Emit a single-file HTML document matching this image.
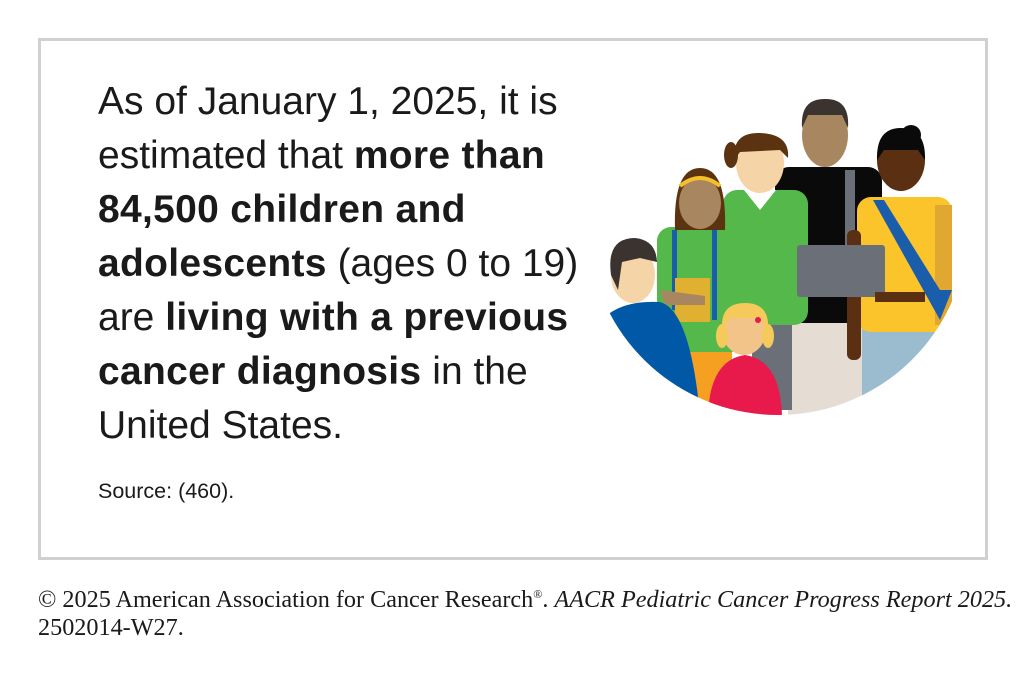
<!DOCTYPE html>
<html><head><meta charset="utf-8"><style>
body{margin:0;width:1025px;height:675px;background:#fff;position:relative;overflow:hidden;font-family:"Liberation Sans",sans-serif}
.box{position:absolute;left:38px;top:38px;width:944px;height:516px;border:3px solid #d0d0d0}
.main{position:absolute;left:98px;top:75px;font-size:39px;line-height:54px;color:#1a1a1a;width:520px;white-space:nowrap}
.main b{font-weight:700;letter-spacing:0.3px}
.src{position:absolute;left:98px;top:479px;font-size:21.5px;color:#1a1a1a}
.foot{position:absolute;left:38px;top:580px;font-family:"Liberation Serif",serif;font-size:24.2px;line-height:28px;color:#1a1a1a;white-space:nowrap}
svg{position:absolute;left:0;top:0}
</style></head><body>
<div class="box"></div>
<div class="main">As of January 1, 2025, it is<br>estimated that <b>more than</b><br><b>84,500 children and</b><br><b>adolescents</b> (ages 0 to 19)<br>are <b>living with a previous</b><br><b>cancer diagnosis</b> in the<br>United States.</div>
<div class="src">Source: (460).</div>
<div class="foot">© 2025 American Association for Cancer Research<sup style="font-size:12px">®</sup>. <i>AACR Pediatric Cancer Progress Report 2025.</i><br>2502014-W27.</div>
<svg width="1025" height="675">
<defs><clipPath id="c"><rect x="560" y="60" width="420" height="200"/><circle cx="778" cy="225" r="190"/></clipPath></defs>
<g clip-path="url(#c)">
<rect x="775" y="167" width="107" height="160" rx="14" fill="#0a0a0a"/>
<rect x="845" y="170" width="10" height="80" fill="#6b7078"/>
<rect x="788" y="323" width="77" height="100" fill="#e5ddd3"/>
<ellipse cx="825" cy="135" rx="23" ry="32" fill="#a8865f"/>
<path d="M802 128 Q800 98 826 99 Q850 99 848 128 L842 115 L808 115 Z" fill="#3a3330"/>
<rect x="752" y="320" width="40" height="90" fill="#6b7078"/>
<rect x="723" y="190" width="85" height="135" rx="14" fill="#55b84a"/>
<path d="M744 190 L760 210 L776 190 Z" fill="#fff"/>
<ellipse cx="760" cy="163" rx="24" ry="30" fill="#f5d5a8"/>
<path d="M734 160 Q732 132 760 133 Q790 134 788 158 L780 150 L740 152 Z" fill="#5c3310"/>
<ellipse cx="731" cy="155" rx="7" ry="13" fill="#5c3310"/>
<rect x="862" y="325" width="73" height="80" fill="#9bbccf"/>
<rect x="857" y="197" width="95" height="135" rx="14" fill="#fcc42b"/>
<rect x="935" y="205" width="17" height="120" fill="#e0a830"/>
<path d="M873 200 L884 200 L940 290 L952 290 L940 320 Z" fill="#1a5eab"/>
<rect x="847" y="230" width="14" height="130" rx="6" fill="#5a2f12"/>
<ellipse cx="901" cy="160" rx="24" ry="31" fill="#5a2f12"/>
<path d="M877 160 Q876 128 901 128 Q926 128 925 160 L918 150 L884 150 Z" fill="#0a0a0a"/>
<circle cx="911" cy="135" r="10" fill="#0a0a0a"/>
<rect x="797" y="245" width="88" height="52" rx="3" fill="#6b7078"/>
<path d="M875 292 L925 292 L925 302 L875 302 Z" fill="#5a2f12"/>
<rect x="680" y="345" width="52" height="70" fill="#f5a020"/>
<rect x="657" y="227" width="88" height="125" rx="14" fill="#55b84a"/>
<rect x="672" y="230" width="5" height="80" fill="#1a5eab"/>
<rect x="712" y="230" width="5" height="90" fill="#1a5eab"/>
<rect x="675" y="278" width="35" height="44" fill="#e0b030"/>
<path d="M660 290 L705 296 L705 305 L665 305 Z" fill="#a8865f"/>
<path d="M675 230 Q673 168 700 168 Q727 168 725 230 Z" fill="#5c3310"/>
<ellipse cx="700" cy="203" rx="21" ry="26" fill="#a8865f"/>
<path d="M680 186 Q700 170 720 186" stroke="#f5c02a" stroke-width="4" fill="none"/>
<path d="M602 320 Q620 300 660 302 Q690 310 700 415 L602 415 Z" fill="#0058a6"/>
<ellipse cx="633" cy="275" rx="22" ry="28" fill="#f5d5a8"/>
<path d="M611 275 Q606 238 635 238 Q656 240 657 262 L640 258 L622 262 L618 290 Z" fill="#3a3330"/>
<path d="M708 415 Q710 360 745 355 Q780 360 782 415 Z" fill="#e8194b"/>
<ellipse cx="744" cy="330" rx="22" ry="25" fill="#f3c48a"/>
<path d="M722 330 Q720 303 745 303 Q770 303 768 330 L760 318 L730 318 Z" fill="#f5c95a"/>
<ellipse cx="722" cy="336" rx="6" ry="12" fill="#f5c95a"/>
<ellipse cx="768" cy="336" rx="6" ry="12" fill="#f5c95a"/>
<circle cx="758" cy="320" r="3" fill="#e8194b"/>
</g>
</svg>
</body></html>
